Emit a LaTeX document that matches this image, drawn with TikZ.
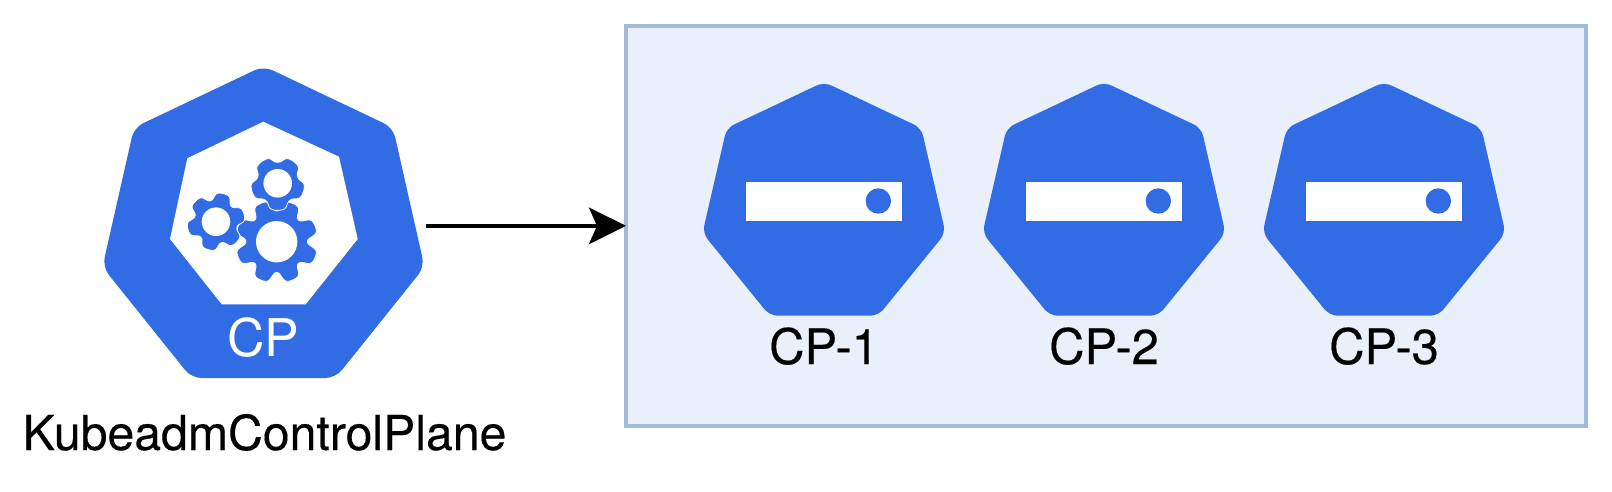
\documentclass[tikz,border=0pt]{standalone}
\usepackage{fontspec}
\setmainfont{TeX Gyre Heros}
\usetikzlibrary{arrows.meta}
\definecolor{k8s}{HTML}{326CE5}
\definecolor{boxfill}{HTML}{E9F0FB}
\definecolor{boxline}{HTML}{A3BBDB}
\tikzset{
  hept/.style={fill=k8s,draw=none},
  lbl/.style={font=\fontsize{24.5pt}{28pt}\selectfont\addfontfeature{FakeBold=0.3},anchor=base,inner sep=0pt,text=black},
  gearline/.style={fill=k8s,draw=white,line width=0.4pt},
  hole/.style={fill=white,draw=none},
  connector/.style={line width=2pt,-{Stealth[length=18.5pt,width=18.3pt,inset=4pt]}},
  groupbox/.style={draw=boxline,fill=boxfill,line width=2pt,outer sep=0pt,inner sep=0pt,minimum width=480pt,minimum height=199.85pt},
  pics/cpnode/.style={code={
    \fill[hept,rounded corners=4pt] (-48.65,-121) -- (0,-144) -- (97.3,-98) -- (121.5,7) -- (54.3,89.7) -- (-54.3,89.7) -- (-121.5,7) -- (-97.3,-98) -- cycle;
    \fill[white] (-78.3,-44) rectangle (78,-5);
    \fill[k8s] (54.3,-25) circle[radius=6.35pt];
  }}
}
\newcommand{\gearshape}[7]{%
  % cx cy root outer teeth phase hole
  \filldraw[gearline] plot[domain=0:360,samples=361]
    ({#1+(#3+(#4-#3)*0.5*(1+tanh(1.6*(cos(#5*(\x-#6))+0.45))/tanh(2.32)))*cos(\x)},
     {#2-(#3+(#4-#3)*0.5*(1+tanh(1.6*(cos(#5*(\x-#6))+0.45))/tanh(2.32)))*sin(\x)}) -- cycle;
  \fill[hole] (#1,#2) circle[radius=#7*0.5pt];
}
\begin{document}
\begin{tikzpicture}[x=0.5pt,y=-0.5pt]
\useasboundingbox (0,0) rectangle (1612,492);
\fill[white] (0,0) rectangle (1612,492);
% big heptagon
\fill[hept,rounded corners=5pt] (198.75,96.8) -- (263.5,66) -- (393,127.6) -- (424.5,267) -- (335.5,378) -- (191.5,378) -- (102.5,267) -- (134,127.6) -- cycle;
\fill[white] (263.3,121.7) -- (339,156.7) -- (357.7,239) -- (305.7,304.3) -- (221.7,304.3) -- (170,239) -- (187.3,158.3) -- cycle;
\gearshape{276.7}{241.7}{29}{41.5}{8}{22.5}{20.7}
\gearshape{216}{221.7}{20.5}{29}{6}{15}{14.3}
\gearshape{277.7}{183.3}{20}{27}{5}{-90}{14.3}
\node[lbl,font=\fontsize{26pt}{28pt}\selectfont,text=white] (cplabel) at (263.5,356) {CP};
\node[lbl,font=\fontsize{24.1pt}{28pt}\selectfont\addfontfeature{FakeBold=0.3}] (kcp) at (264.5,450) {KubeadmControlPlane};
% group box
\node[groupbox] (box) at (1106,225.85) {};
\pic at (824,226) {cpnode};
\pic at (1104,226) {cpnode};
\pic at (1384,226) {cpnode};
\node[lbl] (cp1) at (824,364) {CP-1};
\node[lbl] (cp2) at (1104,364) {CP-2};
\node[lbl] (cp3) at (1384,364) {CP-3};
% connector
\coordinate (start) at (426,225.85);
\draw[connector] (start) -- (box.west);
\end{tikzpicture}
\end{document}
